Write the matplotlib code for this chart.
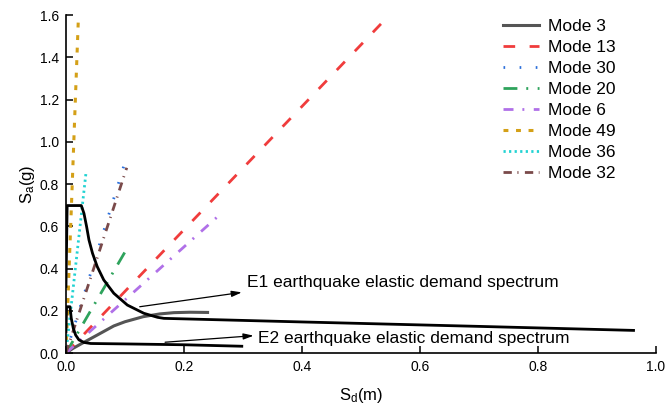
import matplotlib
matplotlib.use("Agg")
import matplotlib.pyplot as plt

plt.rcParams['font.family'] = ['Liberation Sans', 'DejaVu Sans']
plt.rcParams['mathtext.fontset'] = 'custom'
plt.rcParams['mathtext.rm'] = 'Liberation Sans'
plt.rcParams['mathtext.it'] = 'Liberation Sans'
plt.rcParams['mathtext.default'] = 'regular'

# ---- data ----
mode_labels = ["Mode 3", "Mode 13", "Mode 30", "Mode 20", "Mode 6", "Mode 49", "Mode 36", "Mode 32"]

mode3_sd = [0.0, 0.012, 0.030, 0.053, 0.081, 0.100, 0.131, 0.159, 0.183, 0.21, 0.24]
mode3_sa = [0.0, 0.022, 0.050, 0.085, 0.128, 0.148, 0.172, 0.185, 0.191, 0.193, 0.192]

mode13_sd = [0.0, 0.537]
mode13_sa = [0.0, 1.567]
mode30_sd = [0.0, 0.103]
mode30_sa = [0.0, 0.930]
mode20_sd = [0.0, 0.105]
mode20_sa = [0.0, 0.502]
mode6_sd = [0.0, 0.264]
mode6_sa = [0.0, 0.663]
mode49_sd = [0.0, 0.021]
mode49_sa = [0.0, 1.582]
mode36_sd = [0.0, 0.034]
mode36_sa = [0.0, 0.855]
mode32_sd = [0.0, 0.103]
mode32_sa = [0.0, 0.877]

e1_sd = [0.0, 0.002, 0.026, 0.0305, 0.035, 0.039, 0.045, 0.053, 0.064, 0.081, 0.104,
         0.132, 0.155, 0.166, 0.40, 0.70, 0.962]
e1_sa = [0.315, 0.698, 0.698, 0.661, 0.598, 0.535, 0.472, 0.409, 0.346, 0.283, 0.227,
         0.188, 0.169, 0.164, 0.147, 0.126, 0.107]

e2_sd = [0.0, 0.001, 0.0068, 0.009, 0.0124, 0.0164, 0.022, 0.0305, 0.042, 0.10, 0.20, 0.298]
e2_sa = [0.10, 0.219, 0.219, 0.164, 0.117, 0.085, 0.062, 0.050, 0.045, 0.043, 0.039, 0.032]

e1_label = "E1 earthquake elastic demand spectrum"
e2_label = "E2 earthquake elastic demand spectrum"
e1_arrow_tail = (0.125, 0.219)
e1_arrow_head = (0.298, 0.287)
e1_text_pos = (0.307, 0.332)
e2_arrow_tail = (0.168, 0.051)
e2_arrow_head = (0.318, 0.082)
e2_text_pos = (0.326, 0.071)

xticks = [0.0, 0.2, 0.4, 0.6, 0.8, 1.0]
yticks = [0.0, 0.2, 0.4, 0.6, 0.8, 1.0, 1.2, 1.4, 1.6]

# ---- figure ----
fig = plt.figure(figsize=(6.65, 4.08), dpi=100)
ax = fig.add_axes([0.0992, 0.1348, 0.8872, 0.8284])

series = [
    (mode3_sd, mode3_sa, dict(color="#555555", lw=2.2, ls="-")),
    (mode13_sd, mode13_sa, dict(color="#F03C3C", lw=2.0, dashes=(4.2, 5.2))),
    (mode30_sd, mode30_sa, dict(color="#2B6FDB", lw=2.0, dashes=(0.6, 5.2))),
    (mode20_sd, mode20_sa, dict(color="#2EA35C", lw=2.0, dashes=(5.0, 3.2, 0.7, 3.4))),
    (mode6_sd, mode6_sa, dict(color="#B070E8", lw=2.0, dashes=(3.6, 3.2, 0.7, 3.4))),
    (mode49_sd, mode49_sa, dict(color="#D4A017", lw=2.2, dashes=(1.6, 2.5))),
    (mode36_sd, mode36_sa, dict(color="#22D3D3", lw=2.0, dashes=(0.8, 1.2))),
    (mode32_sd, mode32_sa, dict(color="#7A4A4A", lw=2.0, dashes=(3.0, 2.0, 0.4, 2.3))),
]
for (sd, sa, st), lab in zip(series, mode_labels):
    ax.plot(sd, sa, label=lab, **st)

ax.plot(e1_sd, e1_sa, color="black", lw=2.0, solid_joinstyle="round")
ax.plot(e2_sd, e2_sa, color="black", lw=2.0, solid_joinstyle="round")

arrowprops = dict(arrowstyle="-|>,head_length=0.6,head_width=0.18", color="black", lw=0.9,
                  shrinkA=0, shrinkB=0)
ax.annotate("", xy=e1_arrow_head, xytext=e1_arrow_tail, arrowprops=arrowprops)
ax.annotate("", xy=e2_arrow_head, xytext=e2_arrow_tail, arrowprops=arrowprops)
ax.text(e1_text_pos[0], e1_text_pos[1], e1_label, fontsize=12.5, va="center", ha="left")
ax.text(e2_text_pos[0], e2_text_pos[1], e2_label, fontsize=12.5, va="center", ha="left")

ax.set_xlim(0, 1.0)
ax.set_ylim(0, 1.6)
ax.set_xticks(xticks)
ax.set_yticks(yticks)
ax.set_xticklabels([f"{v:.1f}" for v in xticks])
ax.set_yticklabels([f"{v:.1f}" for v in yticks])
ax.tick_params(direction="in", length=5, width=1.1, labelsize=10, pad=5)
for s in ["top", "right"]:
    ax.spines[s].set_visible(False)
for s in ["left", "bottom"]:
    ax.spines[s].set_linewidth(1.2)

ax.set_xlabel("S$_{d}$(m)", fontsize=12, labelpad=9)
ax.set_ylabel("S$_{a}$(g)", fontsize=12, labelpad=2)

leg = ax.legend(loc="upper left", bbox_to_anchor=(0.7285, 1.008), frameon=False, fontsize=12.5,
                handlelength=2.1, handletextpad=0.5, labelspacing=0.33, borderaxespad=0)

fig.savefig("out.png", dpi=100)
